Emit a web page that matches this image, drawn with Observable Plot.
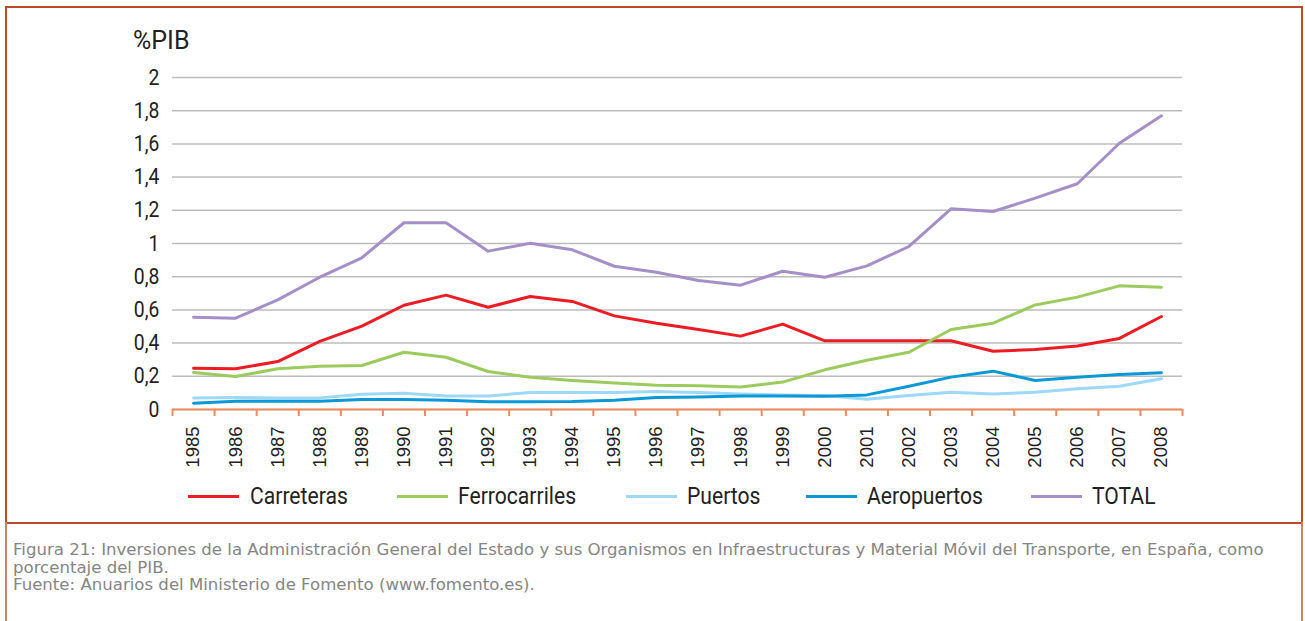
<!DOCTYPE html>
<html>
<head>
<meta charset="utf-8">
<script src="https://cdn.jsdelivr.net/npm/d3@7"></script>
<script src="https://cdn.jsdelivr.net/npm/@observablehq/plot@0.6"></script>
<style>
  html, body { margin: 0; padding: 0; background: #fff; }
  #wrap { position: relative; width: 1305px; height: 621px; overflow: hidden; }
  #box { position: absolute; left: 5px; top: 6px; width: 1294px; height: 514px; border: 2px solid #bb4a2b; }
  #capbox { position: absolute; left: 5px; top: 522px; width: 1294px; height: 120px; border-left: 2px solid #c9826f; border-right: 2px solid #c9826f; }
  #plot { position: absolute; left: 0; top: 0; }
  .narrow { font-family: Roboto, "Liberation Sans", sans-serif; color: #222; white-space: nowrap; }
  .squeeze { transform: scaleX(0.88); transform-origin: 0 0; }
  #ylabel { position: absolute; left: 133px; top: 26px; font-size: 25px; }
  .leg-line { position: absolute; height: 3px; width: 51px; top: 495px; }
  .leg-text { position: absolute; top: 481px; font-size: 24px; line-height: 30px; }
  #caption { position: absolute; left: 13px; top: 542px; font-family: "DejaVu Sans", "Open Sans", sans-serif; font-size: 15px; line-height: 17.6px; color: #858585; white-space: nowrap; transform: scaleX(1.105); transform-origin: 0 0; }
</style>
</head>
<body>
<div id="wrap">
  <div id="box"></div>
  <div id="capbox"></div>
  <div id="plot"></div>
  <div id="ylabel" class="narrow">%PIB</div>
  <div id="legend"></div>
  <div id="caption">Figura 21: Inversiones de la Administración General del Estado y sus Organismos en Infraestructuras y Material Móvil del Transporte, en España, como<br>porcentaje del PIB.<br>Fuente: Anuarios del Ministerio de Fomento (www.fomento.es).</div>
</div>
<script>
const years = [1985,1986,1987,1988,1989,1990,1991,1992,1993,1994,1995,1996,1997,1998,1999,2000,2001,2002,2003,2004,2005,2006,2007,2008];
const seriesNames = ["Carreteras", "Ferrocarriles", "Puertos", "Aeropuertos", "TOTAL"];
const seriesColors = ["#ec1c24", "#9bcb5c", "#9dd9f6", "#0b98d6", "#a48fc8"];
const carreteras   = [0.249,0.245,0.289,0.410,0.502,0.628,0.689,0.616,0.681,0.651,0.564,0.520,0.482,0.442,0.514,0.414,0.414,0.414,0.414,0.351,0.361,0.383,0.428,0.560];
const ferrocarriles= [0.223,0.199,0.245,0.261,0.265,0.345,0.315,0.229,0.194,0.175,0.159,0.146,0.143,0.135,0.165,0.239,0.297,0.345,0.482,0.520,0.630,0.677,0.745,0.737];
const puertos      = [0.070,0.072,0.070,0.070,0.092,0.098,0.082,0.082,0.102,0.102,0.102,0.108,0.102,0.094,0.088,0.084,0.062,0.084,0.104,0.094,0.104,0.125,0.140,0.185];
const aeropuertos  = [0.038,0.050,0.050,0.050,0.060,0.060,0.055,0.046,0.046,0.048,0.056,0.072,0.076,0.082,0.082,0.080,0.088,0.140,0.195,0.231,0.175,0.195,0.211,0.221];
const total        = [0.556,0.550,0.660,0.797,0.914,1.125,1.125,0.954,1.001,0.962,0.863,0.827,0.777,0.749,0.833,0.797,0.865,0.982,1.209,1.193,1.273,1.360,1.604,1.769];
const yTicks = [0,0.2,0.4,0.6,0.8,1,1.2,1.4,1.6,1.8,2];
const seriesValues = [carreteras, ferrocarriles, puertos, aeropuertos, total];

const rows = [];
seriesNames.forEach((name, s) => {
  years.forEach((yr, i) => rows.push({series: name, year: yr, value: seriesValues[s][i]}));
});
const boundaries = years.map(y => y - 0.5).concat([years[years.length - 1] + 0.5]);
const AXIS = "#ef8a5c";
const ML = 172, PAD = 13;

const chart = Plot.plot({
  width: 1305,
  height: 480,
  marginLeft: ML,
  marginRight: 123,
  marginTop: 77,
  marginBottom: 71,
  style: {fontFamily: "Roboto, 'Liberation Sans', sans-serif", fontSize: "22px", color: "#222", background: "transparent", overflow: "visible"},
  x: {type: "linear", domain: [boundaries[0], boundaries[boundaries.length - 1]]},
  y: {domain: [0, 2]},
  color: {domain: seriesNames, range: seriesColors},
  marks: [
    Plot.gridY(yTicks, {stroke: "#bcbcbc", strokeOpacity: 1, strokeWidth: 1.5}),
    Plot.axisY(yTicks, {tickSize: 0, tickPadding: PAD, label: null, fontSize: 22,
      tickFormat: d => String(+d.toFixed(1)).replace(".", ",")}),
    Plot.axisX(years, {tickSize: 0, tickPadding: 17, tickRotate: -90, label: null,
      fontFamily: "'Liberation Sans', Arial, sans-serif", fontSize: 18.5, tickFormat: d => String(d)}),
    Plot.axisX(boundaries, {tickSize: 7, stroke: AXIS, strokeWidth: 2, label: null, tickFormat: () => ""}),
    Plot.ruleY([0], {stroke: AXIS, strokeWidth: 2}),
    Plot.line(rows, {x: "year", y: "value", z: "series", stroke: "series", strokeWidth: 3, strokeLinejoin: "round"})
  ]
});
document.getElementById("plot").appendChild(chart);

// condense the y tick labels horizontally around their right edge
const ax = ML - PAD;
d3.select(chart).selectAll('g[aria-label="y-axis tick label"]').each(function() {
  const t = this.getAttribute("transform") || "";
  this.setAttribute("transform", `translate(${ax},0) scale(0.88,1) translate(${-ax},0) ${t}`);
});

// legend
const legLinesX = [188, 397, 626, 806, 1031];
const legTextX = [250, 458, 687, 867, 1092];
const legend = document.getElementById("legend");
seriesNames.forEach((name, i) => {
  const l = document.createElement("div");
  l.className = "leg-line";
  l.style.left = legLinesX[i] + "px";
  l.style.background = seriesColors[i];
  legend.appendChild(l);
  const t = document.createElement("div");
  t.className = "leg-text narrow squeeze";
  t.style.left = legTextX[i] + "px";
  t.textContent = name;
  legend.appendChild(t);
});
</script>
</body>
</html>
